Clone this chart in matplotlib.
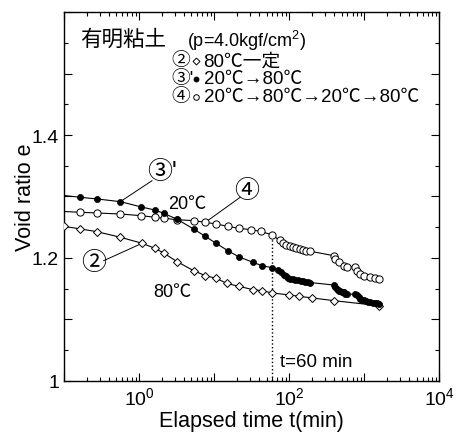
import matplotlib
matplotlib.use("Agg")
import matplotlib.pyplot as plt
from matplotlib.ticker import LogLocator, NullFormatter
import numpy as np

plt.rcParams['font.family'] = ['Liberation Sans', 'Noto Sans CJK JP', 'DejaVu Sans']
plt.rcParams['mathtext.fontset'] = 'custom'
plt.rcParams['mathtext.rm'] = 'Liberation Sans'
plt.rcParams['mathtext.it'] = 'Liberation Sans'

# (2) 80C constant -- open diamonds
t2 = [0.1, 0.165, 0.275, 0.563, 1.10, 1.62, 2.13, 3.21, 5.36, 7.66, 10.6, 14.9,
      21.3, 32.8, 43.6, 60, 99, 135, 203, 394, 1570]
e2 = [1.2515, 1.2472, 1.2428, 1.2337, 1.2239, 1.2158, 1.2081, 1.194, 1.1793,
      1.1712, 1.167, 1.1585, 1.154, 1.1485, 1.1468, 1.143, 1.140, 1.1377, 1.135,
      1.1306, 1.1224]

# (3)' 20C -> 80C -- filled circles (first point is the line start at the axis)
t3 = [0.1, 0.165, 0.275, 0.564, 1.07, 1.62, 2.13, 3.21, 5.36, 7.66, 10.6, 15.2,
      21.3, 32.8, 43.5, 60, 72, 79, 85, 91, 97, 104, 112, 121, 131, 142, 153,
      165, 178, 192, 394, 414, 430, 445, 460, 480, 500, 520, 536, 560, 593, 766,
      807, 850, 893, 940, 990, 1050, 1110, 1214, 1300, 1416, 1500, 1594]
e3 = [1.3016, 1.2987, 1.296, 1.2916, 1.283, 1.278, 1.2727, 1.263, 1.247, 1.235,
      1.224, 1.212, 1.202, 1.193, 1.1875, 1.184, 1.180, 1.177, 1.173, 1.170,
      1.168, 1.166, 1.165, 1.164, 1.1635, 1.163, 1.162, 1.1615, 1.161, 1.160,
      1.156, 1.152, 1.150, 1.148, 1.147, 1.146, 1.145, 1.144, 1.144, 1.142,
      1.141, 1.141, 1.139, 1.136, 1.134, 1.132, 1.131, 1.130, 1.129, 1.128,
      1.1275, 1.127, 1.126, 1.125]

# (4) 20C -> 80C -> 20C -> 80C -- open circles
t4 = [0.1, 0.165, 0.275, 0.563, 1.07, 1.62, 2.13, 3.21, 5.36, 7.66, 10.6, 15.2,
      21.3, 31.4, 42.3, 60, 75, 83, 92, 102, 113, 125, 139, 154, 170, 192, 394,
      414, 460, 536, 593, 766, 807, 893, 990, 1214, 1416, 1594]
e4 = [1.2756, 1.2743, 1.2732, 1.2715, 1.2688, 1.2662, 1.2646, 1.2623, 1.2607,
      1.2580, 1.2553, 1.2515, 1.2483, 1.246, 1.2431, 1.2374, 1.2285, 1.2244,
      1.2216, 1.2195, 1.2174, 1.2158, 1.2141, 1.213, 1.2119, 1.2109, 1.2037,
      1.1984, 1.193, 1.1875, 1.1859, 1.1859, 1.1793, 1.174, 1.1712, 1.1686,
      1.1675, 1.1659]

xtick_vals = [0.1, 1, 10, 100, 1000, 10000]
xtick_text = ['', '$10^{0}$', '', '$10^{2}$', '', '$10^{4}$']
ytick_vals = [1.0, 1.1, 1.2, 1.3, 1.4, 1.5, 1.6]
ytick_text = ['1', '', '1.2', '', '1.4', '', '']

fig = plt.figure(figsize=(4.57, 4.35), dpi=100)
ax = fig.add_axes([0.140, 0.122, 0.821, 0.848])

lw = 0.8
ax.plot(t2, e2, '-', color='k', lw=lw, marker='D', ms=4.2, mfc='white',
        mec='k', mew=0.7, clip_on=True, zorder=3)
ax.plot(t4, e4, '-', color='k', lw=lw, marker='o', ms=5.2, mfc='white',
        mec='k', mew=0.7, markevery=slice(1, None), zorder=3)
ax.plot(t3, e3, '-', color='k', lw=lw, marker='o', ms=4.4, mfc='k',
        mec='k', mew=0.5, markevery=slice(1, None), zorder=4)

# t = 60 min marker
ax.plot([60, 60], [1.0, 1.237], ':', color='k', lw=1.0, zorder=2)
ax.text(75, 1.031, 't=60 min', fontsize=13.5, va='center', ha='left')

# curve labels with leader lines
circ = 18
ax.plot([1.49, 0.564], [1.3257, 1.2916], '-', color='k', lw=0.7)
ax.text(2.03, 1.342, "③'", fontsize=circ, ha='center', va='center')
ax.plot([22.3, 7.66], [1.2987, 1.258], '-', color='k', lw=0.7)
ax.text(27.5, 1.311, "④", fontsize=circ, ha='center', va='center')
ax.plot([0.338, 1.10], [1.1956, 1.2239], '-', color='k', lw=0.7)
ax.text(0.249, 1.193, "②", fontsize=circ, ha='center', va='center')
ax.text(4.37, 1.288, "20℃", fontsize=13, ha='center', va='center')
ax.text(2.75, 1.145, "80℃", fontsize=13, ha='center', va='center')

# legend block (axes coordinates)
ax.text(0.043, 0.927, "有明粘土", transform=ax.transAxes, fontsize=15.5,
        ha='left', va='center')
ax.text(0.328, 0.924, "(p=4.0kgf/cm$^{2}$)", transform=ax.transAxes,
        fontsize=13, ha='left', va='center')
rows = [(0.868, "②", 'D', 'white', 3.5, "80℃一定"),
        (0.819, "③'", 'o', 'k', 3.5, "20℃→80℃"),
        (0.770, "④", 'o', 'white', 4.0, "20℃→80℃→20℃→80℃")]
for y, num, mk, fc, ms, txt in rows:
    ax.text(0.285, y, num, transform=ax.transAxes, fontsize=13.5,
            ha='left', va='center')
    ax.plot([0.352], [y], transform=ax.transAxes, marker=mk, ms=ms, mfc=fc,
            mec='k', mew=0.7, ls='none', clip_on=False)
    ax.text(0.372, y, txt, transform=ax.transAxes, fontsize=13.5,
            ha='left', va='center')

ax.set_xscale('log')
ax.set_xlim(0.1, 1e4)
ax.set_ylim(1.0, 1.6)
ax.set_xticks(xtick_vals)
ax.set_xticklabels(xtick_text)
ax.xaxis.set_minor_locator(LogLocator(base=10, subs=np.arange(2, 10), numticks=20))
ax.xaxis.set_minor_formatter(NullFormatter())
ax.set_yticks(ytick_vals)
ax.set_yticklabels(ytick_text)
ax.set_yticks(np.arange(1.05, 1.6, 0.1), minor=True)
ax.tick_params(which='both', direction='in', top=True, right=True,
               labelsize=14, width=0.8)
ax.tick_params(which='major', length=6)
ax.tick_params(which='minor', length=3)
ax.set_xlabel('Elapsed time t(min)', fontsize=15.5, labelpad=2)
ax.set_ylabel('Void ratio e', fontsize=15.5, labelpad=-3)
for s in ax.spines.values():
    s.set_linewidth(1.0)

fig.savefig('out.png', dpi=100)
